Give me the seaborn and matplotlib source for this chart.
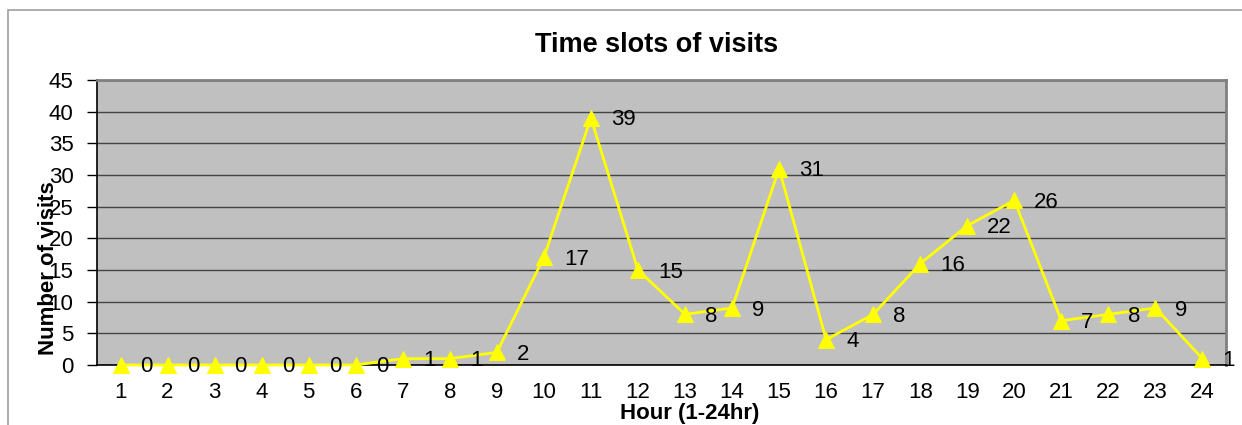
import numpy as np
import pandas as pd
import matplotlib
matplotlib.use("Agg")
import matplotlib.pyplot as plt
import seaborn as sns
from matplotlib.patches import Rectangle

hours = [str(h) for h in range(1, 25)]
visits = [0, 0, 0, 0, 0, 0, 1, 1, 2, 17, 39, 15, 8, 9, 31, 4, 8, 16, 22, 26, 7, 8, 9, 1]
y_ticks = list(range(0, 50, 5))
title = "Time slots of visits"
xlabel = "Hour (1-24hr)"
ylabel = "Number of visits"

sns.set_theme(style="white")
plt.rcParams['font.family'] = ['Liberation Sans', 'DejaVu Sans']
plt.rcParams['text.color'] = 'black'
plt.rcParams['xtick.color'] = 'black'
plt.rcParams['ytick.color'] = 'black'
plt.rcParams['axes.labelcolor'] = 'black'

df = pd.DataFrame({"pos": np.arange(len(hours)), "visits": visits})

fig = plt.figure(figsize=(12.42, 4.25), dpi=100)
fig.patch.set_facecolor("white")
ax = fig.add_axes([97/1242, 1-365/425, (1226-97)/1242, (365-80)/425])
ax.set_facecolor("#C0C0C0")

# outer chart border
fig.add_artist(Rectangle((8/1242, -0.05), 1.2, 1-10/425+0.05, transform=fig.transFigure,
                         fill=False, edgecolor="#A0A0A0", linewidth=1.2))

sns.lineplot(data=df, x="pos", y="visits", ax=ax, color="#FFFF00", linewidth=2,
             marker="^", markersize=11, markeredgecolor="#FFFF00", zorder=5, clip_on=False)

for i, v in enumerate(visits):
    ax.annotate(str(v), (i, v), xytext=(20, -2), textcoords="offset pixels",
                ha="left", va="center", fontsize=16, color="black", zorder=6)

ax.set_xlim(-0.5, len(hours) - 0.5)
ax.set_ylim(0, 45)
ax.set_yticks(y_ticks)
ax.set_yticklabels([str(t) for t in y_ticks], fontsize=16)
ax.set_xticks(np.arange(len(hours)))
ax.set_xticklabels(hours, fontsize=16)
ax.set_xticks(np.arange(-0.5, len(hours), 1), minor=True)
ax.tick_params(axis="x", which="major", length=0, pad=12)
ax.tick_params(axis="x", which="minor", length=7, width=1, color="black", direction="out")
ax.tick_params(axis="y", which="major", length=7, width=1, color="black", direction="out", pad=10, left=True)

ax.yaxis.grid(True, color="#444444", linewidth=1)
ax.set_axisbelow(True)

for s in ["left", "bottom"]:
    ax.spines[s].set_color("black")
    ax.spines[s].set_linewidth(1.2)
for s in ["top", "right"]:
    ax.spines[s].set_color("#808080")
    ax.spines[s].set_linewidth(2)

ax.set_xlabel(xlabel, fontsize=16, fontweight="bold")
ax.xaxis.set_label_coords((690-97)/1129, (365-413)/285)
ax.xaxis.label.set_va("center")
ax.set_ylabel(ylabel, fontsize=16, fontweight="bold")
ax.yaxis.set_label_coords((49-97)/1129, (365-268)/285)
ax.yaxis.label.set_va("center")

fig.text(657/1242, 1-45/425, title, fontsize=19.5, fontweight="bold", ha="center", va="center")

fig.savefig("out.png", dpi=100)
